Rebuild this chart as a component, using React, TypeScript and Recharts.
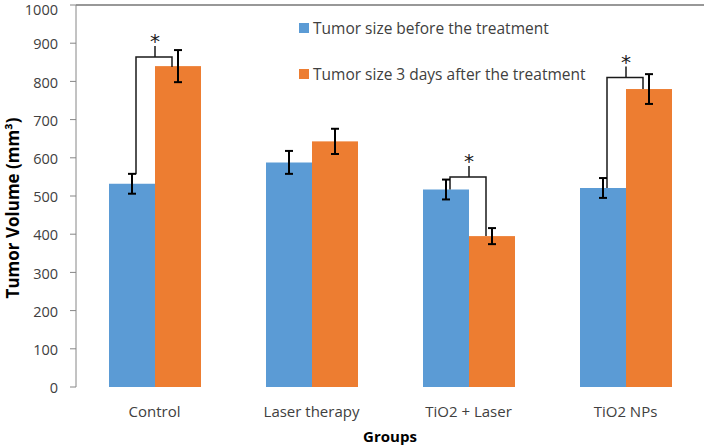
import React from 'react';
import { BarChart, Bar, XAxis, YAxis, ErrorBar, Legend, ReferenceLine } from 'recharts';

const groups = ['Control', 'Laser therapy', 'TiO2 + Laser', 'TiO2 NPs'];
const beforeVals = [532, 588, 517, 521];
const beforeErr = [26, 30, 26, 26];
const afterVals = [840, 643, 395, 780];
const afterErr = [42, 33, 21, 39];
// significance brackets (value units): level of bar, left foot, right foot
const sigLevel: (number | null)[] = [864, null, 550, 810];
const sigLeftFoot: (number | null)[] = [557, null, 517, 521];
const sigRightFoot: (number | null)[] = [838, null, 395, 780];
const yTicks = [0, 100, 200, 300, 400, 500, 600, 700, 800, 900, 1000];
const boundaryTicks = [0, 1, 2, 3, 4];
const seriesNames = ['Tumor size before the treatment', 'Tumor size 3 days after the treatment'];

const BLUE = '#5B9BD5';
const ORANGE = '#ED7D31';
const FONT = '"Open Sans", Lato, sans-serif';
const TEXT = '#404040';
const AXIS = '#868686';

const data = groups.map((g, i) => ({
  group: g,
  before: beforeVals[i],
  beforeErr: beforeErr[i],
  after: afterVals[i],
  afterErr: afterErr[i],
}));

const OrangeShape = (props: any) => {
  const { x, y, width, height, index, fill } = props;
  const rect = <rect x={x} y={y} width={width} height={height} fill={fill} />;
  const lvl = sigLevel[index];
  if (lvl == null) return rect;
  const k = height / afterVals[index];
  const base = y + height;
  const Y = (v: number) => base - v * k;
  const lx = x - width / 2 + 4;
  const rx = x + width / 2 - 6;
  const ly = Y(lvl);
  return (
    <g>
      {rect}
      <path
        d={`M${lx},${Y(sigLeftFoot[index] as number)} V${ly} H${rx} V${Y(sigRightFoot[index] as number)} M${x},${ly} V${ly - 11}`}
        fill="none"
        stroke="#1a1a1a"
        strokeWidth={1.5}
      />
      <text x={x} y={ly - 9} textAnchor="middle" fontSize={20} fontFamily="'DejaVu Sans', sans-serif" fill="#1a1a1a" stroke="none">
        *
      </text>
    </g>
  );
};

const renderLegend = () => (
  <div style={{ fontFamily: FONT, fontSize: 15.5, color: TEXT }}>
    {seriesNames.map((n, i) => (
      <div key={n} style={{ display: 'flex', alignItems: 'center', height: 20, marginBottom: i === 0 ? 26 : 0 }}>
        <span style={{ width: 10, height: 10, background: i === 0 ? BLUE : ORANGE, display: 'inline-block', marginRight: 4 }} />
        <span style={{ whiteSpace: 'nowrap' }}>{n}</span>
      </div>
    ))}
  </div>
);

const YLabel = (props: any) => {
  const vb = props.viewBox;
  const cx = vb.x + 12;
  const cy = vb.y + vb.height / 2 + 12;
  return (
    <text
      x={cx}
      y={cy}
      transform={`rotate(-90, ${cx}, ${cy})`}
      textAnchor="middle"
      dominantBaseline="central"
      fontFamily={FONT}
      fontSize={17}
      fontWeight="bold"
      fill="#000"
    >
      Tumor Volume (mm³)
    </text>
  );
};

export default function App() {
  return (
    <div style={{ position: 'absolute', left: 0, top: 0 }}>
      <BarChart
        width={707}
        height={446}
        data={data}
        margin={{ top: 5, right: 3, left: 0, bottom: 0 }}
        barCategoryGap={33}
        barGap={0}
        style={{ fontFamily: FONT }}
      >
        <XAxis
          xAxisId="bnd"
          type="number"
          domain={[0, 4]}
          ticks={boundaryTicks}
          tick={false}
          height={0}
          tickSize={6}
          axisLine={{ stroke: AXIS }}
          tickLine={{ stroke: AXIS }}
          allowDataOverflow
        />
        <XAxis
          xAxisId="cat"
          dataKey="group"
          height={59}
          axisLine={false}
          tickLine={false}
          tickSize={0}
          tickMargin={19}
          tick={{ fill: TEXT, fontSize: 15, fontFamily: FONT }}
          label={{ value: 'Groups', position: 'insideBottom', offset: 4, fontWeight: 'bold', fontSize: 15, fill: '#000', fontFamily: FONT }}
        />
        <YAxis
          yAxisId="left"
          width={76}
          domain={[0, 1000]}
          ticks={yTicks}
          tickSize={6}
          tickMargin={12}
          axisLine={{ stroke: AXIS }}
          tickLine={{ stroke: AXIS }}
          tick={{ fill: TEXT, fontSize: 14.5, fontFamily: FONT, dy: 1 }}
          label={<YLabel />}
        />
        <ReferenceLine yAxisId="left" xAxisId="bnd" y={1000} stroke="#333" strokeWidth={1.2} ifOverflow="visible" />
        <ReferenceLine yAxisId="left" xAxisId="bnd" x={4} stroke="#333" strokeWidth={1.2} ifOverflow="visible" />
        <Legend
          layout="vertical"
          align="center"
          verticalAlign="middle"
          content={renderLegend}
          wrapperStyle={{ top: 18, left: 299, width: 340 }}
        />
        <Bar xAxisId="cat" yAxisId="left" dataKey="before" name={seriesNames[0]} fill={BLUE} isAnimationActive={false}>
          <ErrorBar dataKey="beforeErr" width={4} stroke="#000" strokeWidth={2} direction="y" />
        </Bar>
        <Bar xAxisId="cat" yAxisId="left" dataKey="after" name={seriesNames[1]} fill={ORANGE} isAnimationActive={false} shape={OrangeShape}>
          <ErrorBar dataKey="afterErr" width={4} stroke="#000" strokeWidth={2} direction="y" />
        </Bar>
      </BarChart>
    </div>
  );
}
